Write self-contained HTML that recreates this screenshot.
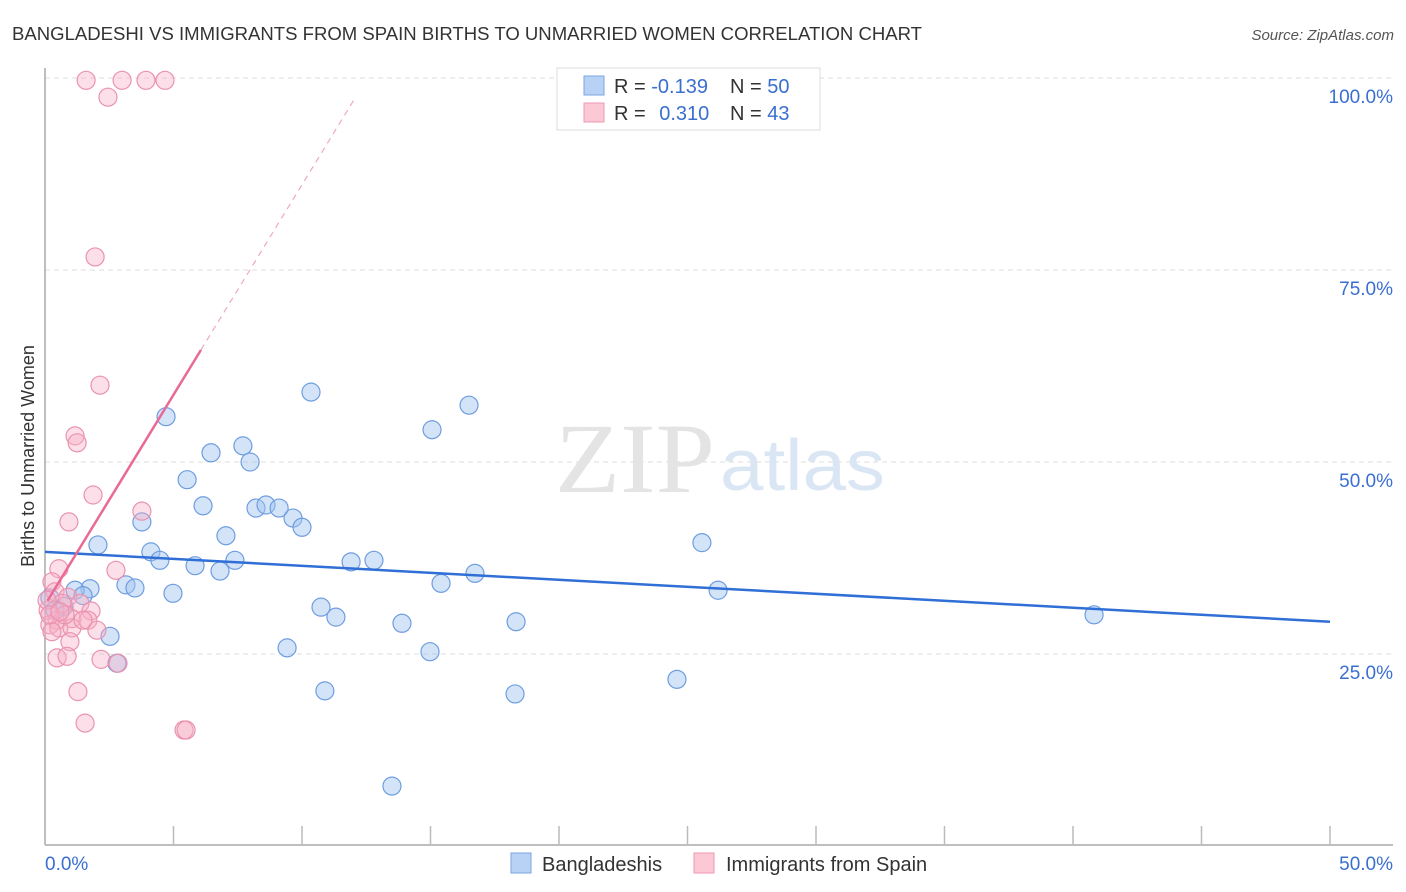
<!DOCTYPE html>
<html><head><meta charset="utf-8">
<style>
body{margin:0;background:#fff;font-family:"Liberation Sans",sans-serif;}
svg{display:block}
</style></head>
<body>
<svg id="chart" width="1406" height="892">
<text x="12" y="40" font-size="18" fill="#333" textLength="910" lengthAdjust="spacingAndGlyphs">BANGLADESHI VS IMMIGRANTS FROM SPAIN BIRTHS TO UNMARRIED WOMEN CORRELATION CHART</text>
<text x="1394" y="40" font-size="15" fill="#555" font-style="italic" text-anchor="end">Source: ZipAtlas.com</text>
<g id="grid"></g>
<text x="555" y="492" font-size="100" fill="#e4e4e4" font-family="Liberation Serif" textLength="160" lengthAdjust="spacingAndGlyphs">ZIP</text>
<text x="720" y="490" font-size="72" fill="#dbe6f5" textLength="165" lengthAdjust="spacingAndGlyphs">atlas</text>
<g id="axes"></g>
<g id="pts"></g>
<g id="trends"></g>
<text transform="translate(34,456) rotate(-90)" font-size="18" fill="#333" text-anchor="middle">Births to Unmarried Women</text>
<g>
<rect x="557" y="68" width="263" height="62" fill="#fff" stroke="#ddd"/>
<rect x="584" y="76" width="20" height="19" fill="#b8d2f5" stroke="#7aa5e0"/>
<rect x="584" y="103" width="20" height="19" fill="#fcc8d6" stroke="#ee9ab3"/>
<text x="614" y="93" font-size="20" fill="#333">R = <tspan fill="#3a6fd0">-0.139</tspan></text>
<text x="730" y="93" font-size="20" fill="#333">N = <tspan fill="#3a6fd0">50</tspan></text>
<text x="614" y="120" font-size="20" fill="#333">R = <tspan fill="#3a6fd0" dx="8">0.310</tspan></text>
<text x="730" y="120" font-size="20" fill="#333">N = <tspan fill="#3a6fd0">43</tspan></text>
</g>
<g>
<rect x="511" y="853" width="20" height="20" fill="#b8d2f5" stroke="#7aa5e0"/>
<text x="542" y="871" font-size="20" fill="#333">Bangladeshis</text>
<rect x="694" y="853" width="20" height="20" fill="#fcc8d6" stroke="#ee9ab3"/>
<text x="726" y="871" font-size="20" fill="#333">Immigrants from Spain</text>
</g>
</svg>
<script>
const yTicks=[25,50,75,100];
const yTickLabels=["25.0%","50.0%","75.0%","100.0%"];
const xTickCount=10;
const blueX=[4.71,10.35,16.50,15.06,6.46,7.70,7.98,5.53,6.15,8.21,8.60,9.11,9.65,10.00,3.77,7.04,2.06,4.12,4.47,7.39,5.84,6.81,11.91,12.80,3.15,3.50,1.75,1.17,1.48,4.98,0.74,0.19,10.74,11.32,13.89,18.33,2.53,9.42,14.98,2.80,10.89,18.29,24.59,25.56,26.19,40.82,15.41,16.73,13.50,0.39];
const blueY=[55.9,59.1,57.4,54.2,51.2,52.1,50.0,47.7,44.3,44.0,44.4,44.0,42.7,41.5,42.2,40.4,39.2,38.3,37.2,37.2,36.5,35.8,37.0,37.2,34.0,33.6,33.5,33.3,32.6,32.9,31.2,32.3,31.1,29.8,29.0,29.2,27.3,25.8,25.3,23.8,20.2,19.8,21.7,39.5,33.3,30.1,34.2,35.5,7.8,30.7];
const pinkX=[1.60,3.00,3.93,4.67,2.45,1.95,2.14,1.17,1.25,1.87,3.77,0.93,0.54,2.76,0.27,0.39,0.89,1.36,1.79,0.66,0.12,0.47,1.05,1.67,0.19,0.54,1.05,2.02,0.27,0.97,0.47,0.86,2.18,2.84,1.28,1.56,5.41,5.49,0.08,0.78,1.48,0.19,0.58];
const pinkY=[99.7,99.7,99.7,99.7,97.5,76.7,60.0,53.4,52.5,45.7,43.6,42.2,36.1,35.9,34.4,33.1,32.4,31.6,30.6,31.6,30.7,29.4,29.6,29.4,28.8,28.4,28.4,28.1,27.9,26.6,24.5,24.7,24.3,23.8,20.1,16.0,15.1,15.1,32.0,30.1,29.4,30.1,30.5];
const blueTrend=[38.3,29.2];
const pinkTrend=[31.4,5.47];
const pinkSolidEnd=6.07, pinkDashEnd=12.1;

const NS="http://www.w3.org/2000/svg";
const X=v=>45+v/50*1285;
const Y=v=>846-v*7.68;
function mk(tag,attrs,parent){const e=document.createElementNS(NS,tag);for(const k in attrs)e.setAttribute(k,attrs[k]);parent.appendChild(e);return e;}
const grid=document.getElementById('grid'),axes=document.getElementById('axes'),pts=document.getElementById('pts'),tr=document.getElementById('trends');
yTicks.forEach((t,i)=>{
  const l=mk('line',{x1:45,x2:1393,y1:Y(t),y2:Y(t),stroke:'#ddd','stroke-dasharray':'5,4'},grid);
  
  
  const tx=mk('text',{x:1393,y:Y(t)+25,'font-size':19,fill:'#3a6fd0','text-anchor':'end'},axes);
  tx.textContent=yTickLabels[i];
  
  
});
mk('line',{x1:45,x2:45,y1:68,y2:845,stroke:'#aaa','stroke-width':1.5},axes);
mk('line',{x1:45,x2:1393,y1:845,y2:845,stroke:'#aaa','stroke-width':1.5},axes);
for(let i=1;i<=xTickCount;i++){const xv=i*50/xTickCount;const t=mk('line',{x1:X(xv),x2:X(xv),y1:826,y2:845,stroke:'#bbb','stroke-width':1.5},axes);}
const x0=mk('text',{x:45,y:870,'font-size':19,fill:'#3a6fd0'},axes);x0.textContent='0.0%';

const x1=mk('text',{x:1393,y:870,'font-size':19,fill:'#3a6fd0','text-anchor':'end'},axes);x1.textContent='50.0%';

blueX.forEach((v,i)=>{const c=mk('circle',{cx:X(v),cy:Y(blueY[i]),r:9,fill:'rgba(160,195,240,0.45)',stroke:'#6e9de0','stroke-width':1.2},pts);
});
pinkX.forEach((v,i)=>{const c=mk('circle',{cx:X(v),cy:Y(pinkY[i]),r:9,fill:'rgba(248,175,198,0.4)',stroke:'#ea93b0','stroke-width':1.2},pts);
});
const bl=mk('line',{x1:X(0),y1:Y(blueTrend[0]),x2:X(50),y2:Y(blueTrend[1]),stroke:'#2f6fd6','stroke-width':2.5},tr);

const pf=x=>pinkTrend[0]+pinkTrend[1]*x;
const ps=mk('line',{x1:X(0.1),y1:Y(pf(0.1)),x2:X(pinkSolidEnd),y2:Y(pf(pinkSolidEnd)),stroke:'#e86a95','stroke-width':2.5},tr);

const pd=mk('line',{x1:X(pinkSolidEnd),y1:Y(pf(pinkSolidEnd)),x2:X(pinkDashEnd),y2:Y(pf(pinkDashEnd)),stroke:'#f0a8c0','stroke-width':1.2,'stroke-dasharray':'6,5'},tr);

</script>
</body></html>
